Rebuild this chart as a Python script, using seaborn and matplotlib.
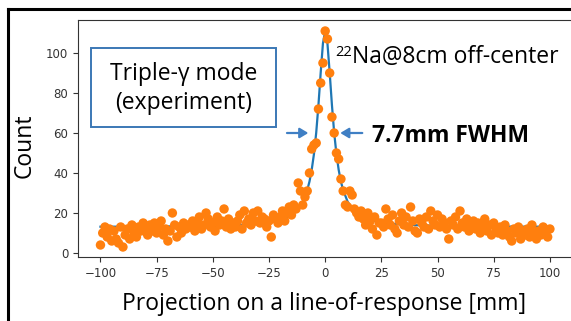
import numpy as np
import pandas as pd
import seaborn as sns
import matplotlib
matplotlib.use("Agg")
import matplotlib.pyplot as plt
from matplotlib.patches import Rectangle
from matplotlib.lines import Line2D

# ---------------- data ----------------
positions = list(range(-100, 101))
counts = [
    4, 10, 13, 8, 12, 6, 11, 7, 5, 13,
    3, 9, 12, 7, 14, 10, 8, 13, 11, 15,
    12, 9, 14, 11, 15, 10, 13, 16, 9, 12,
    6, 11, 20, 14, 8, 13, 10, 15, 12, 14,
    13, 16, 11, 15, 18, 12, 14, 20, 17, 13,
    15, 11, 18, 14, 16, 22, 13, 17, 12, 15,
    13, 16, 19, 12, 21, 15, 17, 14, 20, 16,
    21, 15, 18, 17, 13, 16, 8, 19, 17, 15,
    18, 21, 16, 20, 23, 19, 24, 22, 35, 31,
    24, 28, 31, 40, 52, 54, 55, 72, 85, 95,
    111,
    107, 90, 68, 60, 50, 47, 37, 31, 24, 23,
    31, 29, 22, 20, 18, 21, 17, 14, 20, 16,
    12, 18, 9, 15, 15, 13, 22, 17, 14, 19,
    12, 10, 16, 20, 14, 18, 13, 23, 16, 11,
    10, 17, 15, 13, 18, 12, 21, 16, 14, 19,
    13, 17, 15, 12, 7, 16, 14, 18, 12, 21,
    15, 13, 17, 11, 14, 16, 12, 15, 10, 13,
    17, 11, 14, 9, 15, 12, 10, 13, 9, 14,
    11, 8, 6, 12, 10, 13, 7, 11, 9, 12,
    8, 14, 10, 7, 11, 9, 13, 10, 8, 12,
]
fit_x = [-100, -80, -60, -50, -40, -30, -25, -20, -15, -12, -10, -8, -7, -6, -5, -4, -3, -2, -1, 0,
         1, 2, 3, 4, 5, 6, 7, 8, 10, 12, 15, 20, 25, 30, 40, 50, 60, 80, 100]
fit_y = [13.15, 13.2, 13.4, 13.6, 13.9, 14.6, 15.3, 16.5, 19.0, 22.2, 25.6, 31.4, 35.7, 41.6, 49.5, 60.1, 74.0, 90.2, 104.8, 111.0,
         104.8, 90.2, 74.0, 60.1, 49.5, 41.6, 35.7, 31.4, 25.6, 22.2, 19.0, 16.5, 15.3, 14.6, 13.9, 13.6, 13.4, 13.2, 13.15]
x_ticks = [-100, -75, -50, -25, 0, 25, 50, 75, 100]
y_ticks = [0, 20, 40, 60, 80, 100]

points = pd.DataFrame({"pos": positions, "count": counts})
fit = pd.DataFrame({"pos": fit_x, "count": fit_y})

# ---------------- figure ----------------
W, H = 571, 321
fig = plt.figure(figsize=(W / 100, H / 100), dpi=100)
fig.patch.set_facecolor("white")

def fx(px):
    return px / W

def fy(py):
    return 1 - py / H

ax = fig.add_axes([fx(78), fy(257), (578 - 78) / W, (257 - 20) / H])

sns.lineplot(data=fit, x="pos", y="count", ax=ax, color="#1f77b4", linewidth=1.6,
             sort=False, zorder=2)
sns.scatterplot(data=points, x="pos", y="count", ax=ax, color="#ff7f0e", s=46,
                linewidth=0, edgecolor="none", zorder=3)

ax.set_xlim(-110, 112.5)
ax.set_ylim(-2, 116.5)
ax.set_xticks(x_ticks)
ax.set_yticks(y_ticks)
ax.set_xlabel("")
ax.set_ylabel("")
ax.tick_params(labelsize=8.5, colors="#333333", length=3.5, width=0.8)
for sp in ax.spines.values():
    sp.set_color("#333333")
    sp.set_linewidth(0.8)

slide_font = "Open Sans"
fs = 16.5

# axis labels (slide text)
fig.text(fx(324), fy(310), "Projection on a line-of-response [mm]", ha="center", va="baseline",
         fontsize=fs, family=slide_font, color="black")
fig.text(fx(25), fy(145.5), "Count", ha="center", va="center", rotation=90,
         fontsize=fs, family=slide_font, color="black")

# text box
fig.add_artist(Rectangle((fx(91), fy(127)), (276 - 91) / W, (127 - 48) / H,
                         transform=fig.transFigure, fill=False, edgecolor="#3b78b5", linewidth=1.4))
fig.text(fx(183.5), fy(80), "Triple-γ mode", ha="center", va="baseline",
         fontsize=fs, family=slide_font, color="black")
fig.text(fx(183.5), fy(109), "(experiment)", ha="center", va="baseline",
         fontsize=fs, family=slide_font, color="black")

# source annotation
fig.text(fx(335), fy(56), "22", ha="left", va="baseline", fontsize=10.5, family=slide_font, color="black")
fig.text(fx(352), fy(63), "Na@8cm off-center", ha="left", va="baseline",
         fontsize=fs, family=slide_font, color="black")

# FWHM annotation
fig.text(fx(372), fy(142), "7.7mm FWHM", ha="left", va="baseline", fontsize=fs,
         family=slide_font, fontweight="bold", color="black")
arrow_style = dict(arrowstyle="-|>,head_length=0.5,head_width=0.3", color="#3f7fc4", lw=1.6,
                   shrinkA=0, shrinkB=0)
ax.annotate("", xy=(-7.5, 60), xytext=(-17, 60), arrowprops=arrow_style, zorder=5)
ax.annotate("", xy=(6.7, 60), xytext=(16.5, 60), arrowprops=arrow_style, zorder=5)

# outer slide frame
fig.add_artist(Line2D([fx(8), fx(571)], [fy(9), fy(9)], transform=fig.transFigure,
                      color="black", linewidth=2.2))
fig.add_artist(Line2D([fx(8), fx(8)], [fy(9), fy(321)], transform=fig.transFigure,
                      color="black", linewidth=2.2))

fig.savefig("out.png", dpi=100)
